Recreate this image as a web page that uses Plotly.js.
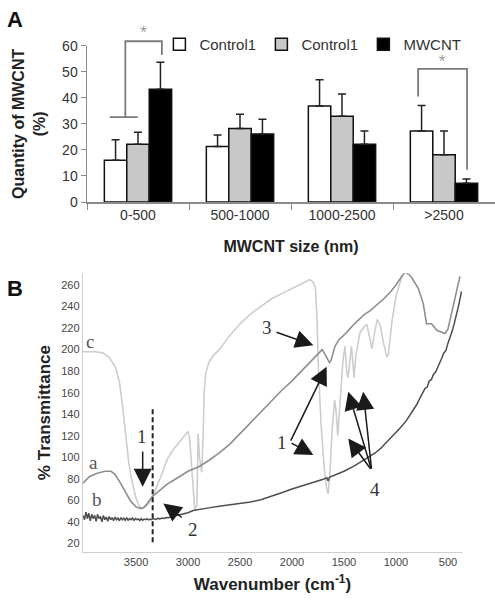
<!DOCTYPE html>
<html>
<head>
<meta charset="utf-8">
<script src="https://cdn.plot.ly/plotly-3.0.1.min.js"></script>
<style>html,body{margin:0;padding:0;background:#fff}#chart{width:495px;height:600px}</style>
</head>
<body>
<div id="chart"></div>
<script>
// ---------- Panel A data ----------
var sizeCategories = ["0-500", "500-1000", "1000-2500", ">2500"];
var control1Values = [16.0, 21.3, 36.9, 27.3];
var control1Errors = [7.9, 4.4, 10.0, 9.7];
var control2Values = [22.2, 28.2, 32.9, 18.1];
var control2Errors = [4.6, 5.5, 8.6, 9.2];
var mwcntValues = [43.3, 26.1, 22.2, 7.2];
var mwcntErrors = [10.3, 5.7, 5.1, 1.6];
var yTicksA = [0, 10, 20, 30, 40, 50, 60];

// significance brackets (category units / % units)
var bracket1X = [-0.277, -0.003, null, -0.124, -0.124, 0.234, 0.234];
var bracket1Y = [32.6, 32.6, null, 32.6, 61.7, 61.7, 56.4];
var bracket2X = [2.746, 2.746, 3.226, 3.226];
var bracket2Y = [40.5, 51.1, 51.1, 12.4];
var starX = [0.055, 2.982];
var starY = [64.5, 53.3];

// ---------- Panel B data (FTIR spectra) ----------
var wnC = [4010,3900,3820,3760,3700,3660,3630,3600,3570,3540,3500,3470,3445,3410,3370,3340,3300,3250,3200,3150,3100,3050,3000,2985,2960,2935,2915,2903,2890,2868,2855,2845,2830,2800,2760,2700,2600,2500,2400,2300,2200,2100,2000,1900,1830,1800,1775,1760,1745,1720,1690,1665,1652,1635,1615,1590,1575,1560,1540,1510,1490,1475,1462,1445,1428,1415,1404,1385,1346,1300,1279,1255,1231,1210,1180,1150,1120,1087,1074,1040,1000,962,935];
var tC   = [198,198,197,193,184,170,148,118,95,78,62,55,52,54,58,63,72,85,98,106,112,118,124,118,80,51,55,122,100,86,118,160,178,188,194,200,213,224,233,240,247,252,257,262,265,263,258,230,180,130,90,70,66,85,125,153,142,120,150,190,203,180,174,192,203,188,174,195,216,222,223,212,201,214,228,222,206,193,195,225,250,262,269];

var wnA = [4010,3950,3880,3800,3740,3700,3650,3600,3550,3500,3460,3430,3400,3370,3340,3300,3250,3200,3150,3100,3050,3000,2950,2900,2850,2800,2700,2600,2500,2400,2308,2200,2100,2000,1900,1800,1731,1710,1690,1660,1640,1625,1600,1587,1550,1474,1400,1346,1300,1250,1186,1120,1058,1000,945,913,880,849,786,738,706,658,608,560,529,500,481,440,410,385];
var tA  = [76,82,85,87,87,84,76,67,59,54,52.5,53,56,60,64,67,71,75,78,81,84,87,89,91,94,97,104,112,122,132,142,152,162,171,181,191,198,200,197,191,188,190,198,203,209,216,224,229,233,236,241,247,253,260,268,272,270,267,257,243,224,224,218,216,215,219,227,243,256,268];

var wnB = [4010,3995,3982,3968,3955,3940,3926,3912,3898,3884,3870,3856,3842,3828,3814,3800,3786,3772,3758,3744,3730,3716,3702,3688,3674,3660,3646,3632,3618,3604,3590,3576,3562,3548,3534,3520,3506,3492,3478,3464,3450,3436,3422,3408,3394,3380,3366,3350,3330,3310,3290,3270,3250,3230,3210,3190,3170,3150,3120,3100,3050,3000,2950,2900,2800,2700,2600,2500,2400,2300,2200,2100,2000,1900,1800,1700,1665,1652,1640,1600,1500,1400,1346,1300,1250,1200,1150,1100,1050,1000,962,900,850,800,770,740,720,700,680,660,640,620,600,580,560,540,520,500,481,460,440,417,400,385,370];
var tB  = [46,42,49,43,48,41,47,43,46,40.5,47,43,45,40,46,42,44.5,40.5,45,42,44,41,44.5,42,43.5,41,44,42,43.5,41.5,44,41.5,43,42,43.5,41.5,43,42,42.8,41.2,43,41.5,42.5,42,43,41.8,42.5,42.2,43,42.3,43.2,42.8,43.5,43.2,44,43.8,44.5,45,45.6,46,47,48.5,50.5,51.5,53,54.5,55.8,57,58.5,60.5,63.5,67,70.5,73.5,76,79.5,81,78,81.5,83,87,92,95,98,101,104,108,113,118,123,127,134,141,149,155,160,164,165,171,172,177,179,183,188,192,197,199,206,211,217,224,232,240,247,254];

var dashX = [3340, 3340];
var dashY = [21, 146];
var xTicksB = [3500, 3000, 2500, 2000, 1500, 1000, 500];
var yTicksB = [20, 40, 60, 80, 100, 120, 140, 160, 180, 200, 220, 240, 260];

// labels and arrows on panel B (wavenumber, transmittance)
var curveLabels = ["c", "a", "b"];
var curveLabelX = [3942, 3905, 3872];
var curveLabelY = [208, 95, 61];
var numLabels = ["1", "2", "3", "1", "4"];
var numLabelX = [3445, 2952, 2243, 2100, 1202];
var numLabelY = [119, 33, 221, 114, 70];
var arrowTipX = [3436, 3237, 1795, 1667, 1795, 1459, 1315, 1459];
var arrowTipY = [72.5, 57, 204, 184, 102, 160.8, 160.8, 117.5];
var arrowTailX = [3436, 3045, 2163, 2019, 2019, 1234, 1234, 1234];
var arrowTailY = [106.7, 43, 216.6, 114, 114, 88, 88, 88];

// ---------- traces ----------
var barLine = {color: "#111", width: 1.5};
function errs(a) { return {type: "data", symmetric: false, array: a, arrayminus: a.map(function(){return 0;}), color: "#222", thickness: 1.5, width: 4}; }

var traces = [
  {type: "bar", name: "Control1", x: sizeCategories, y: control1Values, error_y: errs(control1Errors),
   marker: {color: "#ffffff", line: barLine}, xaxis: "x", yaxis: "y"},
  {type: "bar", name: "Control1", x: sizeCategories, y: control2Values, error_y: errs(control2Errors),
   marker: {color: "#c8c8c8", line: barLine}, xaxis: "x", yaxis: "y"},
  {type: "bar", name: "MWCNT", x: sizeCategories, y: mwcntValues, error_y: errs(mwcntErrors),
   marker: {color: "#000000", line: barLine}, xaxis: "x", yaxis: "y"},
  {type: "scatter", mode: "lines", x: bracket1X, y: bracket1Y, xaxis: "x3", yaxis: "y3", showlegend: false,
   line: {color: "#7a7a7a", width: 1.8}, hoverinfo: "skip"},
  {type: "scatter", mode: "lines", x: bracket2X, y: bracket2Y, xaxis: "x3", yaxis: "y3", showlegend: false,
   line: {color: "#7a7a7a", width: 1.8}, hoverinfo: "skip"},
  {type: "scatter", mode: "text", x: starX, y: starY, text: ["*", "*"], xaxis: "x3", yaxis: "y3", showlegend: false,
   textfont: {size: 17, color: "#999", family: "Liberation Sans, Arial"}, cliponaxis: false, hoverinfo: "skip"},
  {type: "scatter", mode: "lines", name: "c", x: wnC, y: tC, xaxis: "x2", yaxis: "y2", showlegend: false,
   line: {color: "#cdcdcd", width: 1.6}},
  {type: "scatter", mode: "lines", name: "a", x: wnA, y: tA, xaxis: "x2", yaxis: "y2", showlegend: false,
   line: {color: "#8e8e8e", width: 1.6}},
  {type: "scatter", mode: "lines", name: "b", x: wnB, y: tB, xaxis: "x2", yaxis: "y2", showlegend: false,
   line: {color: "#4e4e4e", width: 1.5}},
  {type: "scatter", mode: "lines", x: dashX, y: dashY, xaxis: "x2", yaxis: "y2", showlegend: false,
   line: {color: "#222", width: 2, dash: "5px,3px"}}
];

// ---------- annotations ----------
var annotations = [
  {text: "<b>A</b>", xref: "paper", yref: "paper", x: 5/495, y: 1 - 20/600, xanchor: "left", yanchor: "middle",
   showarrow: false, font: {size: 22, color: "#111", family: "Liberation Sans, Arial"}},
  {text: "<b>B</b>", xref: "paper", yref: "paper", x: 5/495, y: 1 - 288/600, xanchor: "left", yanchor: "middle",
   showarrow: false, font: {size: 22, color: "#111", family: "Liberation Sans, Arial"}}
];
for (var i = 0; i < curveLabels.length; i++) {
  annotations.push({text: curveLabels[i], x: curveLabelX[i], y: curveLabelY[i], xref: "x2", yref: "y2",
    showarrow: false, font: {size: 19, color: "#555", family: "Liberation Serif, Times New Roman"}});
}
for (var j = 0; j < numLabels.length; j++) {
  annotations.push({text: numLabels[j], x: numLabelX[j], y: numLabelY[j], xref: "x2", yref: "y2",
    showarrow: false, font: {size: 19, color: "#333", family: "Liberation Serif, Times New Roman"}});
}
for (var k = 0; k < arrowTipX.length; k++) {
  annotations.push({text: "", x: arrowTipX[k], y: arrowTipY[k], ax: arrowTailX[k], ay: arrowTailY[k],
    xref: "x2", yref: "y2", axref: "x2", ayref: "y2", showarrow: true, arrowhead: 2, arrowsize: 2.4,
    arrowwidth: 1.5, arrowcolor: "#1a1a1a", standoff: 0});
}

var layout = {
  width: 495, height: 600,
  margin: {l: 0, r: 0, t: 0, b: 0},
  paper_bgcolor: "#fff", plot_bgcolor: "rgba(0,0,0,0)",
  font: {family: "Liberation Sans, Arial", color: "#333"},
  barmode: "group", bargap: 0.34, bargroupgap: 0,
  showlegend: true,
  legend: {orientation: "h", x: 0.322, y: 1 - 28/600, xanchor: "left", yanchor: "top",
    font: {size: 15, color: "#333"}, bgcolor: "rgba(0,0,0,0)", itemwidth: 30,
    entrywidth: 57, entrywidthmode: "pixels", tracegroupgap: 0},
  xaxis: {domain: [87/495, 1], anchor: "y", type: "category", range: [-0.5, 3.5],
    showline: true, linecolor: "#8a8a8a", linewidth: 1.5, ticks: "outside", tickson: "boundaries",
    ticklen: 6, tickcolor: "#8a8a8a", tickwidth: 1, showgrid: false, zeroline: false,
    tickfont: {size: 14, color: "#333"},
    title: {text: "<b>MWCNT size (nm)</b>", font: {size: 16, color: "#222"}, standoff: 18}},
  yaxis: {domain: [1 - 202/600, 1 - 45.7/600], anchor: "x", range: [0, 60], tickvals: yTicksA,
    showline: true, linecolor: "#8a8a8a", linewidth: 1.5, ticks: "outside", ticklen: 5,
    tickcolor: "#8a8a8a", showgrid: false, zeroline: false, tickfont: {size: 14, color: "#333"},
    title: {text: "<b>Quantity of MWCNT<br>(%)</b>", font: {size: 16, color: "#222"}, standoff: 12}},
  xaxis3: {domain: [87/495, 1], anchor: "y3", range: [-0.5, 3.5], visible: false},
  yaxis3: {domain: [1 - 202/600, 1 - 19.65/600], anchor: "x3", range: [0, 70], visible: false},
  xaxis2: {domain: [83/495, 462/495], anchor: "y2", range: [4010, 365], tickvals: xTicksB,
    showline: true, linecolor: "#cfcfcf", linewidth: 1.2, ticks: "", showgrid: false, zeroline: false,
    tickfont: {size: 11, color: "#444"},
    title: {text: "<b>Wavenumber (cm<sup>-1</sup>)</b>", font: {size: 17, color: "#222"}, standoff: 10}},
  yaxis2: {domain: [1 - 552/600, 1 - 273.2/600], anchor: "x2", range: [12, 271], tickvals: yTicksB,
    showline: true, linecolor: "#cfcfcf", linewidth: 1.2, ticks: "", showgrid: false, zeroline: false,
    tickfont: {size: 11, color: "#444"},
    title: {text: "<b>% Transmittance</b>", font: {size: 17, color: "#222"}, standoff: 6}},
  annotations: annotations
};

Plotly.newPlot("chart", traces, layout, {displayModeBar: false, staticPlot: true});
</script>
</body>
</html>
